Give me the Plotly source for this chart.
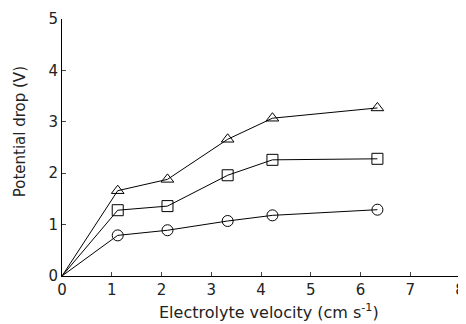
import plotly.graph_objects as go

x_vals = [0, 1.12, 2.12, 3.33, 4.23, 6.34]
tri_vals = [0, 1.66, 1.88, 2.66, 3.07, 3.27]
sq_vals = [0, 1.28, 1.36, 1.96, 2.26, 2.28]
circ_vals = [0, 0.79, 0.89, 1.07, 1.18, 1.29]
x_ticks = [0, 1, 2, 3, 4, 5, 6, 7, 8]
y_ticks = [0, 1, 2, 3, 4, 5]

fig = go.Figure()
for vals, sym in [(tri_vals, "triangle-up-open"), (sq_vals, "square-open"), (circ_vals, "circle-open")]:
    fig.add_trace(go.Scatter(
        x=x_vals[1:], y=vals[1:], mode="markers",
        marker=dict(symbol=sym, size=11, color="black", line=dict(width=1, color="black")),
        showlegend=False, cliponaxis=False))
    fig.add_trace(go.Scatter(
        x=x_vals, y=vals, mode="lines",
        line=dict(color="black", width=1), showlegend=False, cliponaxis=False))

font = dict(family="DejaVu Sans", size=14, color="#222")
fig.update_layout(
    width=458, height=316,
    margin=dict(l=54, r=6, t=11, b=48, autoexpand=False),
    plot_bgcolor="white", paper_bgcolor="white",
    font=font,
    xaxis=dict(range=[0, 8.0001], tickvals=x_ticks, ticks="inside", ticklen=4,
               showline=True, linecolor="black", linewidth=1, showgrid=False, zeroline=False,
               tickfont=dict(size=15), automargin=False, ticklabeloverflow="allow"),
    yaxis=dict(range=[0, 5.0001], tickvals=y_ticks, ticks="inside", ticklen=4,
               showline=True, linecolor="black", linewidth=1, showgrid=False, zeroline=False,
               tickfont=dict(size=15), automargin=False),
    annotations=[
        dict(text="Potential drop (V)", xref="paper", yref="paper",
             x=-0.105, y=0.56, textangle=-90, showarrow=False,
             font=dict(size=15), xanchor="center", yanchor="middle"),
        dict(text="Electrolyte velocity (cm s<sup>-1</sup>)", xref="paper", yref="paper",
             x=0.52, y=-0.14, showarrow=False,
             font=dict(size=16), xanchor="center", yanchor="middle"),
    ],
)
fig.write_html("out.html")
